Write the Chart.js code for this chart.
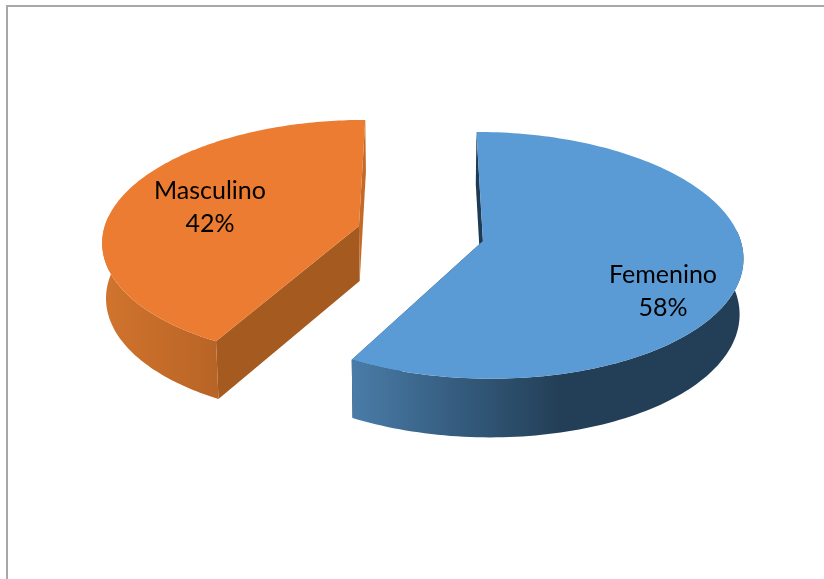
<!DOCTYPE html>
<html lang="es">
<head>
    <meta charset="UTF-8">
    <title>Masculino / Femenino</title>
    <script src="https://cdn.jsdelivr.net/npm/chart.js"></script>
    <style>
        html, body { margin: 0; padding: 0; background: #ffffff; overflow: hidden; }
        #frame {
            position: absolute;
            left: 6px;
            top: 5px;
            right: 0;
            bottom: 0;
            border-left: 2px solid #a8a8a8;
            border-top: 2px solid #a8a8a8;
        }
        canvas { position: absolute; left: 0; top: 0; }
    </style>
</head>
<body>
    <div id="frame"></div>
    <canvas id="pie" width="824" height="579"></canvas>
    <script>
        const categories = ['Femenino', 'Masculino'];
        const values = [58, 42];

        const colors = ['#5b9bd5', '#eb7c31'];

        // per slice look of the 3D sides, same order as categories
        const rimStops = [
            [[352, '#4a7ca8'], [450, '#365e81'], [560, '#233f57'], [741, '#233f57']],
            [[105, '#d0742e'], [160, '#c56c29'], [218, '#b86427']]
        ];
        const startCutColors = ['#1f3a54', '#a55a20'];
        const endCutColors = ['#1f3a54', '#c46a28'];
        const labelPos = [[663, 283], [210, 199]];

        // projection of the pie plane on the screen (perspective, seen from the front)
        const view = { cx: 420.5, cy: 233.5, rx: 256, ry: 120, p: 0.115, explode: 0.25, depth: 55, shrink: 0.988 };

        function project(u, v, down) {
            const w = 1 + view.p * v;
            let x = view.rx * u / w;
            let y = -view.ry * v / w;
            if (down) {
                x *= view.shrink;
                y += view.depth / Math.sqrt(w);
            }
            return [view.cx + x, view.cy + y];
        }

        function tracePath(ctx, pts) {
            ctx.beginPath();
            pts.forEach((p, i) => i ? ctx.lineTo(p[0], p[1]) : ctx.moveTo(p[0], p[1]));
            ctx.closePath();
        }

        const pie3d = {
            id: 'pie3d',
            beforeDatasetsDraw(chart) {
                const ctx = chart.ctx;
                const arcs = chart.getDatasetMeta(0).data;
                // the far slice first
                [1, 0].forEach(i => {
                    const arc = arcs[i];
                    const mid = (arc.startAngle + arc.endAngle) / 2;
                    const ou = Math.cos(mid) * view.explode;
                    const ov = -Math.sin(mid) * view.explode;
                    const at = (a, down) => project(ou + Math.cos(a), ov - Math.sin(a), down);
                    const centre = down => project(ou, ov, down);

                    const top = [centre(false)];
                    const rimTop = [];
                    const rimLow = [];
                    const steps = 160;
                    for (let s = 0; s <= steps; s++) {
                        const a = arc.startAngle + (arc.endAngle - arc.startAngle) * s / steps;
                        top.push(at(a, false));
                        if (Math.sin(a) > -0.1) {
                            rimTop.push(at(a, false));
                            rimLow.unshift(at(a, true));
                        }
                    }

                    // the two cut faces
                    tracePath(ctx, [centre(false), at(arc.startAngle, false), at(arc.startAngle, true), centre(true)]);
                    ctx.fillStyle = startCutColors[i];
                    ctx.fill();
                    tracePath(ctx, [centre(false), at(arc.endAngle, false), at(arc.endAngle, true), centre(true)]);
                    ctx.fillStyle = endCutColors[i];
                    ctx.fill();

                    // outer side
                    const stops = rimStops[i];
                    const x0 = stops[0][0];
                    const x1 = stops[stops.length - 1][0];
                    const grad = ctx.createLinearGradient(x0, 0, x1, 0);
                    stops.forEach(st => grad.addColorStop((st[0] - x0) / (x1 - x0), st[1]));
                    tracePath(ctx, rimTop.concat(rimLow));
                    ctx.fillStyle = grad;
                    ctx.fill();

                    // top face
                    tracePath(ctx, top);
                    ctx.fillStyle = colors[i];
                    ctx.fill();
                });

                // labels
                const total = values.reduce((a, b) => a + b, 0);
                ctx.fillStyle = '#000000';
                ctx.font = '25px Lato';
                ctx.textAlign = 'center';
                ctx.textBaseline = 'alphabetic';
                categories.forEach((name, i) => {
                    ctx.fillText(name, labelPos[i][0], labelPos[i][1]);
                    ctx.fillText(Math.round(values[i] / total * 100) + '%', labelPos[i][0], labelPos[i][1] + 33);
                });
                return false;
            }
        };

        new Chart(document.getElementById('pie'), {
            type: 'pie',
            data: {
                labels: categories,
                datasets: [{ data: values, backgroundColor: colors, borderWidth: 0 }]
            },
            options: {
                responsive: false,
                animation: false,
                rotation: 0,
                plugins: {
                    legend: { display: false },
                    tooltip: { enabled: false }
                }
            },
            plugins: [pie3d]
        });
    </script>
</body>
</html>
